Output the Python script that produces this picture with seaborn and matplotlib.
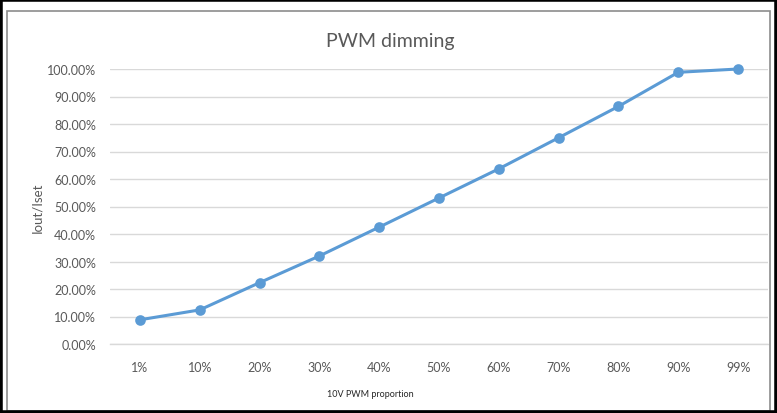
import matplotlib
matplotlib.use("Agg")
import matplotlib.pyplot as plt
import seaborn as sns
import pandas as pd
from matplotlib.patches import Rectangle
from matplotlib.ticker import FuncFormatter

categories = ["1%", "10%", "20%", "30%", "40%", "50%", "60%", "70%", "80%", "90%", "99%"]
values = [0.088, 0.124, 0.223, 0.320, 0.425, 0.531, 0.637, 0.750, 0.864, 0.988, 1.000]
yticks = [0.0, 0.1, 0.2, 0.3, 0.4, 0.5, 0.6, 0.7, 0.8, 0.9, 1.0]

sns.set_style("white")
plt.rcParams["font.family"] = ["Lato", "DejaVu Sans"]

df = pd.DataFrame({"x": pd.Categorical(categories, categories=categories, ordered=True), "y": values})

fig = plt.figure(figsize=(7.77, 4.14), dpi=100)
ax = fig.add_axes([110/777, 1-345/414, 658/777, 275/414])

sns.pointplot(data=df, x="x", y="y", color="#5B9BD5", markers="o",
              linewidth=2.2, markersize=6, ax=ax)
for line in ax.lines:
    line.set_clip_on(False)
for coll in ax.collections:
    coll.set_clip_on(False)

ax.set_xlim(-0.5, len(categories) - 0.5)
ax.set_ylim(0, 1)
ax.set_yticks(yticks)
ax.yaxis.set_major_formatter(FuncFormatter(lambda v, p: f"{v*100:.2f}%"))
ax.grid(axis="y", color="#D9D9D9", linewidth=1)
ax.set_axisbelow(True)
for s in ["top", "right", "left"]:
    ax.spines[s].set_visible(False)
ax.spines["bottom"].set_color("#D9D9D9")
ax.spines["bottom"].set_linewidth(1)
ax.tick_params(axis="both", length=0, labelsize=9, labelcolor="#595959")
ax.tick_params(axis="x", pad=12)
ax.tick_params(axis="y", pad=10)

ax.set_xlabel("")
ax.set_ylabel("")
fig.text(370/777, 1-395/414, "10V PWM proportion", fontsize=6.5, color="#262626",
         ha="center", va="center")
fig.text(37/777, 1-208/414, "Iout/Iset", fontsize=9.5, color="#595959",
         ha="center", va="center", rotation=90)
fig.text(390/777, 1-42/414, "PWM dimming", fontsize=14, color="#595959",
         ha="center", va="center")

fig.patches.append(Rectangle((7/777, 2/414), 763/777, 400/414, transform=fig.transFigure,
                             fill=False, edgecolor="#8C8C8C", linewidth=1.2))
fig.patches.append(Rectangle((0, 0), 1, 1, transform=fig.transFigure,
                             fill=False, edgecolor="black", linewidth=4))

fig.savefig("out.png", dpi=100)
